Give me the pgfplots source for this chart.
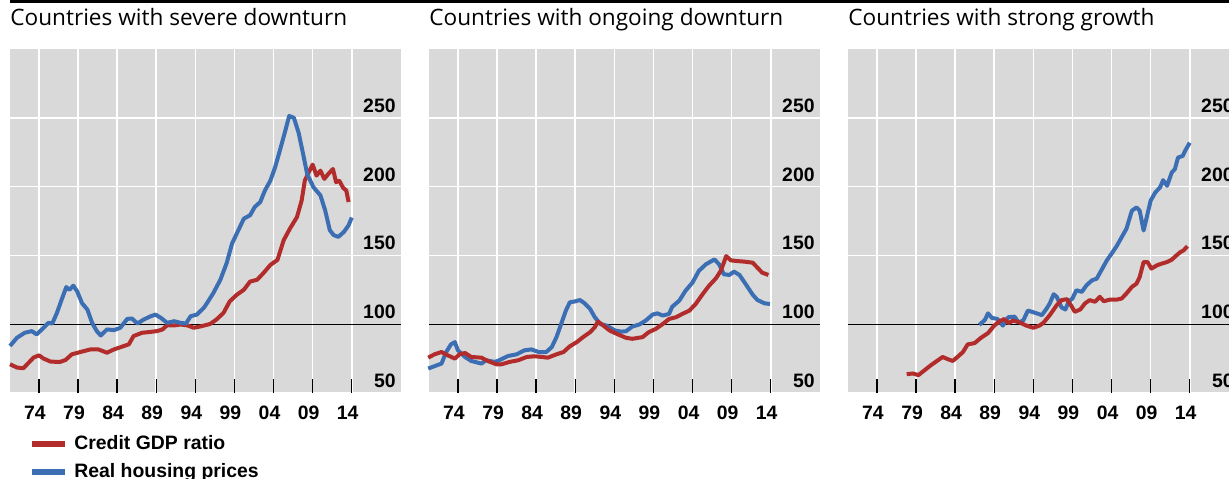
\documentclass[border=0pt]{standalone}
\usepackage{fontspec}
\setmainfont{Liberation Sans}
\newfontfamily\titlefont{Open Sans}
\usepackage{pgfplots}
\pgfplotsset{compat=1.18}
\definecolor{panelgray}{HTML}{D9D9D9}
\definecolor{creditred}{HTML}{B22C2C}
\definecolor{houseblue}{HTML}{3C6EB4}

\pgfplotsset{
  panel/.style={
    scale only axis, width=195.5pt, height=172pt,
    xmin=1970.3, xmax=2020.3, ymin=50, ymax=300,
    axis line style={draw=none},
    axis background/.style={fill=panelgray},
    xtick={1974,1979,...,2014},
    xticklabels={74,79,84,89,94,99,04,09,14},
    ytick={50,150,200,250},
    extra y ticks={100},
    extra y tick style={grid style={black,line width=0.7pt}, tick style={draw=none}},
    xmajorgrids, ymajorgrids,
    grid style={white,line width=0.8pt},
    xtick pos=bottom, yticklabel pos=right,
    tick align=inside, major tick length=7pt,
    xtick style={black,line width=0.7pt},
    ytick style={draw=none},
    /pgf/number format/assume math mode=true,
    tick label style={font=\fontsize{9.7}{11}\selectfont\bfseries},
    xticklabel style={anchor=north,inner sep=0pt,yshift=-6.5pt,xshift=-2pt},
    yticklabel style={anchor=south east,inner sep=0pt,xshift=-2.5pt,yshift=2.5pt},
    title style={at={(0,1)},anchor=base west,inner sep=0pt,yshift=6pt,
      font=\titlefont\fontsize{11.3}{13}\selectfont},
    clip=false,
  },
  cr/.style={creditred,line width=2pt,line join=round},
  hb/.style={houseblue,line width=2pt,line join=round},
}

\begin{document}
\begin{tikzpicture}
\path[use as bounding box] (0,0) rectangle (614.5pt,-239pt);
\clip (0,0) rectangle (614.5pt,-239pt);
\draw[black,line width=1.3pt] (5pt,-0.7pt) -- (614.5pt,-0.7pt);

% severe downturn
\begin{axis}[panel, at={(5pt,-196.5pt)}, anchor=south west,
  title={Countries with severe downturn},
  legend style={draw=none,fill=none,inner sep=0pt,at={(0,0)},anchor=north west,
    xshift=9.5pt,yshift=-19pt,row sep=1.5pt,column sep=1pt,
    font=\fontsize{9.7}{11}\selectfont\bfseries},
  legend cell align=left,
  legend image code/.code={\draw[#1,line width=3pt] (0pt,0pt) -- (16.5pt,0pt);}]
\addplot[cr] coordinates {
(1970.3,70.9) (1971.2,68.5) (1972.0,68.0) (1972.7,72.1) (1973.3,75.7) (1974.0,77.4)
(1974.6,75.0) (1975.5,72.8) (1976.7,72.6) (1977.4,74.0) (1978.2,78.1) (1979.3,79.8)
(1980.6,81.7) (1981.6,81.7) (1982.7,79.3) (1983.6,81.7) (1984.9,84.2) (1985.5,85.4)
(1986.1,91.4) (1987.2,93.8) (1988.1,94.3) (1989.1,95.0) (1989.8,96.2) (1990.4,99.3)
(1991.3,99.1) (1992.1,99.8) (1993.0,99.1) (1993.8,97.4) (1994.6,98.3) (1995.9,100.2)
(1996.7,103.4) (1997.6,108.2) (1998.4,116.6) (1999.3,121.4) (2000.2,125.0) (2001.0,131.0)
(2001.9,132.3) (2002.7,137.1) (2003.6,143.1) (2004.5,146.7) (2005.3,161.1) (2006.1,169.5)
(2007.0,177.9) (2007.6,190.0) (2008.0,204.4) (2008.5,210.4) (2009.0,216.0) (2009.5,208.0)
(2010.0,211.6) (2010.5,205.6) (2011.0,209.2) (2011.6,212.8) (2012.0,203.2) (2012.4,204.4)
(2012.9,199.1) (2013.3,197.2) (2013.6,188.8)};
\addlegendentry{Credit GDP ratio}
\addplot[hb] coordinates {
(1970.3,84.2) (1971.2,90.2) (1972.2,93.8) (1973.1,95.0) (1973.7,92.6) (1974.6,97.4)
(1975.2,101.0) (1975.7,100.5) (1976.3,108.2) (1976.9,117.8) (1977.5,127.0) (1977.9,125.0)
(1978.4,128.0) (1978.9,123.8) (1979.5,115.4) (1980.2,110.6) (1980.8,101.0) (1981.4,95.0)
(1981.9,91.8) (1982.7,96.2) (1983.6,95.7) (1984.4,97.4) (1985.3,103.9) (1985.9,104.1)
(1986.6,100.5) (1987.4,103.4) (1988.3,105.8) (1988.9,107.0) (1989.6,104.6) (1990.4,101.0)
(1991.3,102.2) (1992.1,101.0) (1992.8,100.5) (1993.4,105.8) (1994.2,107.0) (1995.1,112.0)
(1995.5,115.4) (1996.3,122.6) (1997.2,132.3) (1998.0,144.3) (1998.7,158.7) (1999.3,165.9)
(2000.2,176.7) (2001.0,179.2) (2001.6,185.2) (2002.3,188.8) (2002.9,197.2) (2003.6,204.4)
(2004.2,214.0) (2004.8,226.0) (2005.5,240.5) (2006.0,251.3) (2006.6,250.1) (2007.2,239.3)
(2007.7,226.0) (2008.3,209.2) (2009.1,199.6) (2010.0,193.6) (2010.6,182.8) (2011.2,168.3)
(2011.7,164.7) (2012.3,163.5) (2013.0,167.1) (2013.6,171.9) (2014.0,177.5)};
\addlegendentry{Real housing prices}
\end{axis}

% ongoing downturn
\begin{axis}[panel, at={(214.5pt,-196.5pt)}, anchor=south west,
  title={Countries with ongoing downturn}]
\addplot[hb] coordinates {
(1970.2,67.8) (1971.0,69.5) (1971.9,71.4) (1972.5,79.8) (1973.1,85.3) (1973.6,87.0)
(1974.0,81.0) (1974.9,76.2) (1975.7,73.3) (1977.0,71.4) (1977.6,73.8) (1978.7,72.6)
(1979.3,73.8) (1980.4,76.9) (1981.5,78.1) (1982.5,81.0) (1983.4,81.7) (1984.3,79.8)
(1985.3,79.8) (1986.0,83.4) (1986.6,90.6) (1987.2,100.2) (1987.8,109.9) (1988.3,115.9)
(1989.0,116.6) (1989.6,117.6) (1990.2,115.2) (1990.9,111.1) (1991.5,105.1) (1992.2,100.2)
(1993.0,99.0) (1994.1,95.4) (1994.9,94.6) (1995.5,94.9) (1996.3,98.3) (1997.2,99.8)
(1998.0,102.6) (1998.9,107.0) (1999.5,107.9) (2000.2,106.3) (2001.0,107.5) (2001.4,112.7)
(2002.3,117.1) (2003.1,124.3) (2004.0,130.3) (2004.8,138.7) (2005.7,143.5) (2006.8,147.1)
(2007.4,143.5) (2008.0,136.3) (2008.7,135.8) (2009.3,138.2) (2010.0,135.8) (2010.8,129.1)
(2011.7,121.4) (2012.3,117.6) (2013.2,115.2) (2013.9,114.7)};
\addplot[cr] coordinates {
(1970.2,75.7) (1971.0,78.1) (1971.9,79.8) (1972.7,77.4) (1973.6,75.0) (1974.2,78.1)
(1974.9,79.1) (1975.7,76.2) (1977.0,75.7) (1977.8,73.3) (1978.9,70.9) (1979.6,70.9)
(1980.6,72.6) (1981.7,73.8) (1982.8,76.2) (1983.8,76.7) (1984.7,76.2) (1985.5,75.7)
(1986.6,78.1) (1987.5,79.8) (1988.3,83.9) (1989.2,87.0) (1990.0,90.6) (1990.9,94.2)
(1991.5,97.8) (1991.9,101.9) (1992.6,99.0) (1993.4,95.4) (1994.3,93.0) (1995.5,90.1)
(1996.3,89.4) (1997.6,90.6) (1998.4,94.2) (1999.3,96.6) (2000.2,100.2) (2001.0,103.8)
(2001.9,105.1) (2002.7,107.5) (2003.6,109.9) (2004.4,114.7) (2005.3,121.9) (2006.1,127.9)
(2007.0,133.4) (2007.6,138.7) (2008.0,144.7) (2008.3,149.5) (2008.9,146.4) (2009.7,145.9)
(2010.6,145.5) (2011.7,144.7) (2012.3,141.1) (2012.9,137.5) (2013.7,135.8)};
\end{axis}

% strong growth
\begin{axis}[panel, at={(424pt,-196.5pt)}, anchor=south west,
  title={Countries with strong growth}]
\addplot[hb] coordinates {
(1987.1,99.5) (1987.8,103.1) (1988.2,107.9) (1988.7,104.6) (1989.4,103.8) (1990.1,99.0)
(1990.8,105.1) (1991.6,105.5) (1992.1,101.4) (1992.7,102.6) (1993.3,109.9) (1994.0,108.7)
(1995.1,106.6) (1995.7,111.4) (1996.1,115.1) (1996.6,121.8) (1997.0,119.9) (1997.6,112.2)
(1998.1,110.7) (1998.5,116.3) (1999.0,118.7) (1999.5,124.7) (2000.2,123.5) (2000.8,128.3)
(2001.5,131.9) (2002.1,133.1) (2002.7,139.2) (2003.4,146.4) (2004.0,151.2) (2004.7,157.2)
(2005.3,163.3) (2005.9,169.3) (2006.6,182.5) (2007.2,184.9) (2007.6,182.5) (2008.1,168.1)
(2008.5,177.7) (2009.0,189.8) (2009.6,195.8) (2010.2,199.4) (2010.6,204.7) (2011.1,200.6)
(2011.7,210.3) (2012.1,212.7) (2012.5,221.1) (2013.1,222.3) (2013.4,225.9) (2014.0,231.9)};
\addplot[cr] coordinates {
(1977.8,63.7) (1978.6,64.2) (1979.3,63.0) (1980.1,66.6) (1980.9,70.2) (1981.8,73.8)
(1982.4,76.2) (1983.1,74.5) (1983.7,73.3) (1984.3,76.2) (1985.0,79.8) (1985.6,85.3)
(1986.5,86.3) (1987.3,90.1) (1988.2,93.5) (1989.0,99.0) (1989.7,102.2) (1990.3,103.8)
(1990.8,100.7) (1991.4,102.6) (1992.2,101.4) (1993.1,99.0) (1994.0,97.4) (1994.8,99.0)
(1995.3,101.1) (1996.1,106.6) (1997.0,113.9) (1997.6,117.5) (1998.3,118.2) (1998.8,113.9)
(1999.3,109.0) (2000.0,110.7) (2000.6,115.1) (2001.2,117.5) (2001.9,116.3) (2002.5,119.9)
(2003.0,116.7) (2003.8,117.9) (2004.7,117.9) (2005.3,118.7) (2005.9,122.3) (2006.6,127.1)
(2007.2,129.5) (2007.6,134.3) (2008.1,145.2) (2008.6,145.2) (2009.1,140.4) (2009.8,142.8)
(2010.4,144.0) (2011.1,145.2) (2011.7,146.9) (2012.3,150.0) (2012.8,152.4) (2013.2,153.6)
(2013.7,156.7)};
\end{axis}
\end{tikzpicture}
\end{document}
